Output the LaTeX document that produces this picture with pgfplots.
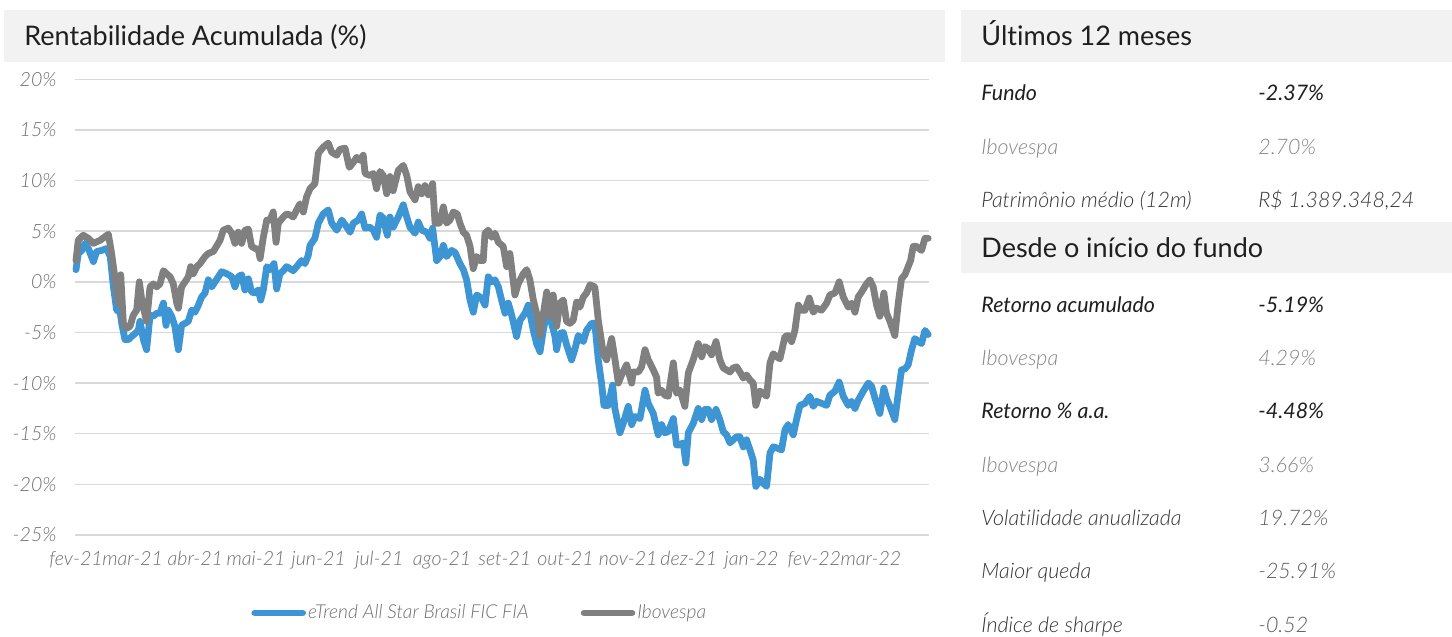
\documentclass[border=0pt]{standalone}
\usepackage{fontspec}
\setmainfont{Lato}[Ligatures=NoCommon]
\newfontface\lightit{Lato Light Italic}[Ligatures=NoCommon]
\usepackage{pgfplots}
\pgfplotsset{compat=1.18}
\definecolor{fundblue}{HTML}{3D95D3}
\definecolor{ibovgray}{HTML}{808080}
\definecolor{gridgray}{HTML}{D9D9D9}
\definecolor{panelgray}{HTML}{F2F2F2}
\definecolor{ticktext}{HTML}{6E6E6E}
\definecolor{darktext}{HTML}{1F1F1F}
\definecolor{midtext}{HTML}{333333}
\definecolor{lighttext}{HTML}{858585}
\definecolor{valtext}{HTML}{5A5A5A}
\begin{document}
\begin{tikzpicture}
\begin{scope}[x=0.5pt,y=-0.5pt]
\path[use as bounding box] (0,0) rectangle (1452,637);
% panels
\fill[panelgray] (4,10) rectangle (945,62);
\fill[panelgray] (961,10) rectangle (1452,62);
\fill[panelgray] (961,222) rectangle (1452,273);
\node[anchor=base west, inner sep=0pt, font=\fontsize{13.5}{15}\selectfont, text=darktext] at (24,46) {Rentabilidade Acumulada (\%)};
\node[anchor=base west, inner sep=0pt, font=\fontsize{13.5}{15}\selectfont, text=darktext] at (981,46) {Últimos 12 meses};
\node[anchor=base west, inner sep=0pt, font=\fontsize{13.5}{15}\selectfont, text=darktext] at (981,257) {Desde o início do fundo};
% rows
\begin{scope}[every node/.style={anchor=base west, inner sep=0pt, font=\fontsize{10.7}{12}\selectfont\lightit}]
\node[text=darktext, font=\fontsize{10.7}{12}\selectfont\itshape] at (981,100) {Fundo};
\node[text=darktext, font=\fontsize{10.7}{12}\selectfont\itshape] at (1258,100) {-2.37\%};
\node[text=lighttext] at (981,154) {Ibovespa};
\node[text=lighttext] at (1258,154) {2.70\%};
\node[text=midtext] at (981,207) {Patrimônio médio (12m)};
\node[text=midtext] at (1258,207) {R\$ 1.389.348,24};
\node[text=darktext, font=\fontsize{10.7}{12}\selectfont\itshape] at (981,312) {Retorno acumulado};
\node[text=darktext, font=\fontsize{10.7}{12}\selectfont\itshape] at (1258,312) {-5.19\%};
\node[text=lighttext] at (981,365) {Ibovespa};
\node[text=lighttext] at (1258,365) {4.29\%};
\node[text=darktext, font=\fontsize{10.7}{12}\selectfont\itshape] at (981,418) {Retorno \% a.a.};
\node[text=darktext, font=\fontsize{10.7}{12}\selectfont\itshape] at (1258,418) {-4.48\%};
\node[text=lighttext] at (981,472) {Ibovespa};
\node[text=lighttext] at (1258,472) {3.66\%};
\node[text=midtext] at (981,525) {Volatilidade anualizada};
\node[text=valtext] at (1258,525) {19.72\%};
\node[text=midtext] at (981,578) {Maior queda};
\node[text=valtext] at (1258,578) {-25.91\%};
\node[text=midtext] at (981,632) {Índice de sharpe};
\node[text=valtext] at (1258,632) {-0.52};
\end{scope}
\end{scope}
\begin{axis}[
  at={(37.5pt,-267.5pt)}, anchor=south west,
  width=427pt, height=227.85pt, scale only axis,
  xmin=-0.5, xmax=421.7, ymin=-25, ymax=20,
  clip=false,
  axis line style={draw=none},
  major tick length=0pt,
  ymajorgrids, major grid style={gridgray, line width=0.75pt},
  ytick={-25,-20,-15,-10,-5,0,5,10,15,20},
  yticklabels={-25\%,-20\%,-15\%,-10\%,-5\%,0\%,5\%,10\%,15\%,20\%},
  xtick={0,28,59,89,120,150,181,212,242,273,303,334,365,393},
  xticklabels={fev-21,mar-21,abr-21,mai-21,jun-21,jul-21,ago-21,set-21,out-21,nov-21,dez-21,jan-22,fev-22,mar-22},
  yticklabel style={anchor=east, inner sep=0pt, xshift=-9pt, font=\fontsize{9.8}{11}\selectfont\lightit, text=ticktext},
  xticklabel style={anchor=base, inner sep=0pt, yshift=-15pt, font=\fontsize{9.8}{11}\selectfont\lightit, text=ticktext},
  legend columns=2,
  legend style={at={(0.474,-0.171)}, anchor=center, draw=none, fill=none,
    font=\fontsize{9.6}{11}\selectfont\lightit, text=ticktext,
    nodes={inner sep=1pt},
    /tikz/every even column/.append style={column sep=25pt}},
  legend image code/.code={\draw[#1, line width=3.3pt, line cap=round] (0pt,0pt) -- (24pt,0pt);},
  every axis plot/.append style={line width=3.4pt, line join=round, line cap=round, mark=none},
]
\addplot[fundblue] coordinates {
(0,1.2) (1.1,2.8) (2.9,3.1) (4.4,3.8) (6.1,3.3) (8.6,2.0) (10.2,3.0) (12.7,3.1) (15.2,3.3) (16.9,2.5)
(18.5,-0.5) (20.1,-2.8) (21.8,-3.0) (22.6,-4.1) (24.2,-5.7) (25.9,-5.7) (27.5,-5.4) (29.2,-5.1) (30.8,-4.8) (31.6,-3.9)
(33.3,-5.7) (34.9,-6.7) (36.6,-3.3) (38.2,-3.4) (39.9,-3.1) (41.5,-3.1) (43.2,-2.1) (44.5,-4.3) (45.6,-2.8) (47.3,-3.4)
(48.9,-4.4) (50.6,-6.7) (52.2,-4.3) (53.9,-4.1) (55.5,-3.9) (57.2,-2.8) (58.8,-3.0) (60.5,-2.3) (62.1,-1.5) (63.8,-1.1)
(65.4,0.2) (67.1,-0.5) (68.7,0.0) (70.4,0.5) (72.0,1.0) (74.5,0.8) (77.0,0.5) (78.6,-0.5) (80.2,0.5) (81.9,0.7)
(83.5,-0.8) (85.2,0.3) (86.8,-1.0) (88.5,-1.1) (90.1,-0.8) (91.3,-1.8) (92.6,-0.8) (94.3,1.5) (95.9,1.2) (97.9,1.8)
(99.2,-0.7) (100.8,0.8) (102.5,1.1) (104.1,1.5) (105.8,1.3) (107.4,1.1) (109.1,1.5) (111.5,2.1) (113.2,1.8) (114.8,2.6)
(115.7,3.6) (118.1,4.3) (119.8,5.8) (122.2,6.7) (124.7,7.1) (126.4,5.8) (128.9,5.1) (131.4,6.1) (133.9,5.4) (135.5,4.9)
(137.1,5.8) (139.6,6.1) (141.2,6.7) (142.9,5.3) (145.3,5.4) (147.0,5.1) (148.6,4.4) (150.3,6.6) (151.9,6.3) (153.9,4.6)
(155.2,6.4) (156.8,5.4) (159.3,6.4) (161.8,7.6) (163.5,6.4) (165.1,5.4) (167.6,4.8) (169.2,5.9) (170.9,5.1) (173.4,4.9)
(175.0,4.3) (176.3,5.3) (178.3,2.1) (180.0,2.5) (181.6,3.6) (183.2,2.5) (185.7,3.1) (187.4,2.9) (189.8,1.8) (191.5,1.2)
(193.1,0.2) (194.8,-1.8) (196.4,-3.0) (198.1,-1.3) (200.5,-1.6) (202.2,-2.3) (203.8,0.5) (205.5,0.0) (207.1,0.2) (208.8,-0.5)
(210.4,-1.8) (212.1,-3.1) (213.7,-2.1) (215.4,-3.3) (217.8,-5.4) (219.5,-3.8) (222.0,-3.1) (223.6,-2.3) (226.1,-4.8) (227.7,-6.1)
(229.4,-6.9) (231.0,-4.8) (232.7,-3.1) (235.1,-4.1) (236.8,-5.4) (237.6,-6.7) (239.2,-5.1) (240.9,-5.0) (242.5,-6.2) (245.0,-7.7)
(246.6,-6.7) (248.3,-5.3) (250.8,-5.9) (252.4,-4.8) (254.9,-4.1) (256.5,-4.1) (258.2,-7.7) (259.8,-10.0) (261.0,-12.2) (263.1,-12.2)
(265.3,-10.2) (266.4,-12.5) (268.9,-14.9) (270.5,-14.0) (273.0,-12.3) (274.7,-14.1) (276.3,-13.3) (278.8,-13.5) (281.3,-10.7) (282.9,-12.0)
(285.4,-13.0) (287.8,-15.1) (289.5,-14.1) (291.1,-14.9) (292.8,-14.8) (295.3,-13.5) (296.9,-16.1) (298.6,-16.1) (300.2,-15.9) (301.5,-17.9)
(302.7,-14.9) (305.1,-14.0) (307.6,-12.5) (309.3,-13.6) (310.9,-12.6) (312.6,-12.6) (314.2,-13.6) (316.4,-12.6) (318.3,-13.6) (320.0,-14.8)
(321.6,-15.1) (323.3,-15.9) (324.9,-15.6) (326.6,-15.3) (328.2,-15.3) (329.9,-16.3) (331.5,-15.6) (333.2,-16.6) (334.8,-17.6) (336.1,-20.2)
(338.1,-19.5) (339.8,-19.9) (341.4,-20.2) (343.1,-16.9) (344.7,-16.3) (346.4,-16.4) (348.8,-16.6) (350.5,-14.6) (352.1,-14.1) (354.6,-15.1)
(356.2,-13.6) (357.9,-12.2) (360.4,-12.0) (362.8,-11.3) (364.5,-12.3) (366.1,-11.8) (368.6,-12.0) (371.1,-12.2) (372.7,-11.2) (375.2,-10.8)
(377.3,-9.9) (379.3,-11.3) (381.8,-12.2) (383.4,-11.8) (385.1,-12.5) (386.7,-11.7) (389.2,-10.8) (391.7,-10.0) (393.3,-10.3) (395.0,-11.5)
(397.4,-13.0) (399.4,-10.5) (400.7,-11.5) (402.4,-12.3) (404.8,-13.6) (406.5,-11.0) (408.1,-8.7) (409.8,-8.6) (411.4,-8.2) (413.1,-6.7)
(414.7,-5.6) (416.4,-5.9) (418.0,-6.1) (419.7,-4.8) (421.3,-5.2)
};
\addlegendentry{eTrend All Star Brasil FIC FIA}
\addplot[ibovgray] coordinates {
(0,2.1) (1.1,4.1) (3.6,4.6) (6.1,4.3) (8.6,3.8) (11.9,4.1) (16.0,4.7) (17.6,2.8) (19.3,0.3) (20.9,-2.1)
(22.1,0.7) (23.4,-4.1) (25.0,-4.6) (26.7,-4.4) (28.3,-3.3) (30.0,-2.8) (31.3,0.0) (32.5,-1.8) (33.6,-2.8) (34.9,-3.9)
(36.6,-0.5) (38.2,-0.2) (39.9,-0.5) (41.5,-0.2) (43.2,1.1) (44.8,0.8) (46.5,0.5) (48.1,-0.2) (49.8,-2.1) (50.6,-2.6)
(52.2,-0.5) (53.9,0.0) (55.5,0.5) (56.7,1.5) (58.0,0.8) (59.7,1.5) (61.3,1.8) (63.8,2.5) (65.4,2.8) (67.9,3.0)
(71.2,4.1) (72.8,5.1) (75.3,5.3) (77.0,4.8) (78.6,3.8) (80.2,4.9) (81.9,3.8) (83.5,5.1) (85.2,5.2) (86.8,3.5)
(88.5,3.3) (90.1,3.2) (91.0,2.3) (92.6,4.4) (94.3,6.1) (95.9,6.1) (97.5,6.9) (98.9,3.9) (100.0,5.8) (102.5,6.4)
(104.1,6.7) (105.8,6.6) (107.4,6.4) (109.1,7.1) (110.7,7.7) (112.4,6.9) (114.0,8.4) (115.7,9.2) (118.1,9.7) (119.8,12.7)
(122.2,13.3) (124.7,13.7) (126.4,12.8) (128.9,12.5) (130.5,13.1) (133.0,13.2) (135.1,11.3) (137.1,11.8) (138.8,12.3) (140.4,12.0)
(142.0,12.5) (142.9,10.7) (145.3,10.5) (147.0,10.7) (148.6,9.2) (150.3,10.9) (151.9,10.5) (153.6,8.7) (155.2,10.4) (156.8,9.0)
(159.3,11.0) (161.8,11.5) (163.5,10.5) (165.1,8.9) (167.6,8.1) (169.2,9.4) (170.9,8.7) (172.5,9.5) (174.2,8.6) (176.3,9.7)
(177.5,5.8) (179.6,5.8) (181.6,7.4) (183.2,5.8) (184.9,6.1) (186.5,6.9) (188.5,6.7) (189.8,5.8) (191.5,4.9) (193.1,4.6)
(194.8,3.5) (196.4,1.3) (198.1,2.5) (199.7,2.1) (201.3,2.1) (202.2,4.8) (203.8,5.1) (205.5,4.4) (207.1,4.8) (208.8,3.9)
(211.2,3.5) (212.9,1.5) (214.5,2.8) (217.0,-1.3) (218.6,-0.2) (221.1,0.8) (222.8,1.2) (224.4,0.2) (226.1,-1.8) (227.7,-3.1)
(229.4,-5.3) (232.7,-1.0) (234.3,-3.4) (235.9,-1.3) (237.6,-4.4) (239.2,-2.1) (240.9,-1.8) (242.5,-3.9) (244.2,-4.1) (245.8,-3.8)
(247.5,-2.0) (249.1,-2.5) (250.8,-1.5) (252.4,-1.1) (254.1,-0.3) (256.5,-0.5) (258.2,-3.8) (260.7,-7.1) (262.3,-7.7) (264.8,-5.6)
(266.4,-7.6) (268.1,-10.0) (269.7,-9.2) (272.2,-8.2) (274.7,-10.0) (275.5,-8.9) (278.0,-8.9) (279.6,-8.4) (281.3,-6.7) (282.9,-7.7)
(285.4,-8.7) (287.0,-9.4) (287.8,-11.0) (289.5,-10.7) (291.1,-11.2) (292.8,-11.3) (295.3,-8.0) (296.9,-11.0) (298.6,-10.7) (301.0,-12.3)
(302.7,-9.0) (305.1,-7.7) (307.6,-6.1) (309.3,-7.4) (310.9,-6.4) (312.6,-6.6) (314.2,-7.2) (316.4,-5.9) (318.3,-7.7) (320.0,-8.5)
(321.6,-8.7) (323.3,-8.9) (324.9,-8.5) (326.6,-8.4) (328.2,-8.9) (329.9,-9.5) (331.5,-9.2) (333.2,-9.7) (334.8,-10.0) (336.1,-12.2)
(338.1,-10.8) (339.8,-11.0) (341.4,-11.3) (343.1,-8.0) (344.7,-7.1) (346.4,-7.4) (348.0,-7.6) (350.5,-5.4) (352.1,-5.3) (353.8,-5.9)
(355.4,-4.8) (357.1,-2.3) (358.7,-2.8) (360.4,-2.8) (362.5,-1.6) (364.5,-3.0) (366.1,-2.6) (368.6,-2.8) (371.1,-2.1) (372.7,-1.3)
(375.2,-1.1) (377.3,0.0) (379.3,-1.5) (381.8,-2.5) (383.4,-2.1) (385.1,-3.0) (386.7,-1.5) (388.4,-1.0) (390.8,-0.2) (392.5,0.2)
(394.1,-0.5) (395.8,-2.3) (397.4,-3.4) (399.4,-1.1) (400.7,-3.1) (402.4,-3.9) (404.8,-5.3) (406.5,-2.1) (408.1,0.3) (409.8,0.7)
(411.4,1.5) (412.6,2.1) (413.9,3.5) (415.5,3.5) (418.0,3.1) (419.7,4.3) (421.3,4.3)
};
\addlegendentry{Ibovespa}
\end{axis}
\end{tikzpicture}
\end{document}
